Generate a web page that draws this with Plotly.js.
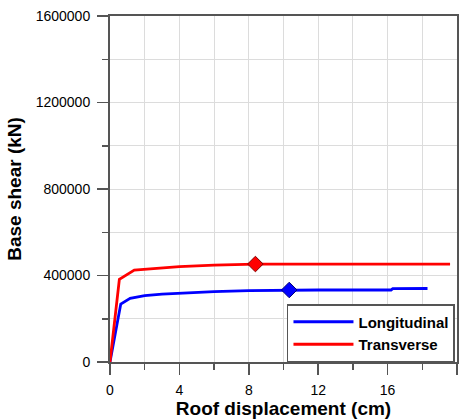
<!DOCTYPE html>
<html>
<head>
<meta charset="utf-8">
<script src="https://cdn.plot.ly/plotly-3.0.1.min.js"></script>
<style>html,body{margin:0;padding:0;background:#fff;}#chart{width:463px;height:420px;}</style>
</head>
<body>
<div id="chart"></div>
<script>
var longX = [0, 0.62, 1.16, 2, 3, 4, 6, 8, 10.33, 12, 14, 16.2, 16.3, 18.3];
var longY = [0, 268000, 294000, 307000, 314000, 318000, 325000, 330000, 333000, 333000, 333000, 333000, 339000, 340000];
var transX = [0, 0.54, 1.4, 2, 3, 4, 6, 7, 8.38, 12, 16, 19.6];
var transY = [0, 382000, 425000, 429000, 436000, 441000, 448000, 451000, 453000, 453000, 453000, 453000];
var longPeakX = [10.33], longPeakY = [333000];
var transPeakX = [8.38], transPeakY = [453000];
var xTicks = [0, 4, 8, 12, 16, 20];
var yTicks = [0, 400000, 800000, 1200000, 1600000];

var FONT = 'Liberation Sans, Arial, sans-serif';
var traces = [
  {x: longX, y: longY, mode: 'lines', name: 'Longitudinal', line: {color: '#0000ff', width: 2.8}},
  {x: transX, y: transY, mode: 'lines', name: 'Transverse', line: {color: '#ff0000', width: 2.8}},
  {x: longPeakX, y: longPeakY, mode: 'markers', showlegend: false, marker: {symbol: 'diamond', size: 12, color: '#0000ff', line: {color: '#00007a', width: 1}}},
  {x: transPeakX, y: transPeakY, mode: 'markers', showlegend: false, marker: {symbol: 'diamond', size: 12, color: '#ff0000', line: {color: '#800000', width: 1}}}
];

var axisCommon = {
  showline: true, mirror: true, linecolor: '#555555', linewidth: 2,
  ticks: 'outside', ticklen: 11, tickwidth: 1.5, tickcolor: '#555555',
  showgrid: true, gridcolor: '#dcdcdc', gridwidth: 1, zeroline: false,
  tickfont: {family: FONT, size: 14, color: '#000'}
};

var layout = {
  width: 463, height: 420,
  margin: {l: 110, r: 6, t: 16, b: 58},
  paper_bgcolor: '#fff', plot_bgcolor: '#fff',
  showlegend: true,
  xaxis: Object.assign({}, axisCommon, {
    range: [0, 20], tickvals: xTicks, ticktext: xTicks.map(String),
    ticklabelstandoff: 3,
    minor: {dtick: 2, tick0: 0, ticks: 'outside', ticklen: 6, tickwidth: 1.5, tickcolor: '#555555', showgrid: true, gridcolor: '#dcdcdc', gridwidth: 1},
    title: {text: '<b>Roof displacement (cm)</b>', font: {family: FONT, size: 19, color: '#000'}, standoff: 0}
  }),
  yaxis: Object.assign({}, axisCommon, {
    range: [0, 1600000], tickvals: yTicks, ticktext: yTicks.map(String),
    ticklabelstandoff: 4,
    minor: {dtick: 200000, tick0: 0, ticks: 'outside', ticklen: 6, tickwidth: 1.5, tickcolor: '#555555', showgrid: true, gridcolor: '#dcdcdc', gridwidth: 1},
    title: {text: '<b>Base shear (kN)</b>', font: {family: FONT, size: 19, color: '#000'}, standoff: 9}
  }),
  legend: {
    x: 0.51, y: 0, xanchor: 'left', yanchor: 'bottom',
    bgcolor: '#fff', bordercolor: '#555555', borderwidth: 1.5,
    font: {family: FONT, size: 15, color: '#000', weight: 'bold'},
    itemwidth: 60, tracegroupgap: 0
  }
};

Plotly.newPlot('chart', traces, layout, {displayModeBar: false, staticPlot: true});
</script>
</body>
</html>
